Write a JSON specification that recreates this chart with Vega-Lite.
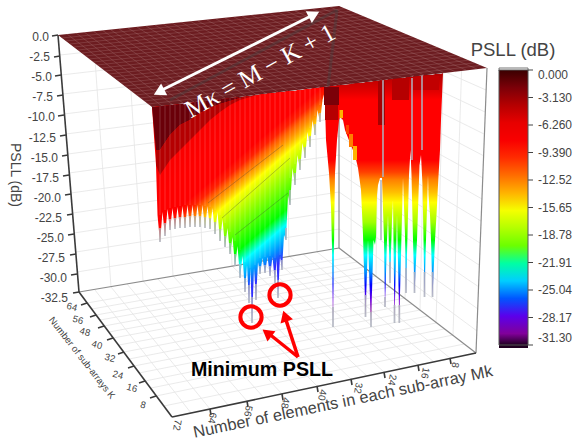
{"$schema":"https://vega.github.io/schema/vega-lite/v6.json","width":577,"height":440,"padding":0,"autosize":"none","background":"white","config":{"view":{"stroke":null},"text":{"font":"Liberation Sans"}},
"encoding":{"x":{"field":"u","type":"quantitative","scale":{"domain":[0,577],"nice":false,"zero":false},"axis":null},"y":{"field":"v","type":"quantitative","scale":{"domain":[440,0],"nice":false,"zero":false},"axis":null}},
"layer":[
{"mark":{"type":"rule","color":"#e4e4e4","strokeWidth":0.8},"encoding":{"x2":{"field":"a"},"y2":{"field":"w"}},"data":{"values":[
{"u":210,"v":409,"a":111,"w":287},{"u":247,"v":401,"a":143,"w":281},{"u":282,"v":394,"a":173,"w":276},{"u":317,"v":386,"a":203,"w":271},{"u":351,"v":379,"a":232,"w":266},{"u":384,"v":372,"a":260,"w":261},{"u":418,"v":365,"a":289,"w":256},{"u":450,"v":358,"a":317,"w":252},
{"u":191,"v":413,"a":95,"w":290},{"u":228,"v":405,"a":127,"w":284},{"u":264,"v":398,"a":158,"w":279},{"u":299,"v":390,"a":188,"w":274},{"u":334,"v":383,"a":217,"w":269},{"u":367,"v":376,"a":246,"w":264},{"u":401,"v":369,"a":274,"w":259},{"u":434,"v":362,"a":303,"w":254},
{"u":156,"v":396,"a":453,"w":335},{"u":145,"v":381,"a":436,"w":323},{"u":134,"v":366,"a":420,"w":310},{"u":124,"v":352,"a":405,"w":298},{"u":113,"v":338,"a":390,"w":287},{"u":104,"v":326,"a":376,"w":276},{"u":96,"v":315,"a":364,"w":267},{"u":87,"v":303,"a":351,"w":257},
{"u":164,"v":406,"a":464,"w":344},{"u":151,"v":388,"a":444,"w":329},{"u":139,"v":373,"a":428,"w":316},{"u":129,"v":359,"a":412,"w":304},{"u":119,"v":345,"a":397,"w":293},{"u":109,"v":332,"a":383,"w":282},{"u":100,"v":320,"a":370,"w":272},{"u":92,"v":309,"a":357,"w":262},
{"u":111,"v":287,"a":93,"w":31},{"u":143,"v":281,"a":127,"w":28},{"u":173,"v":276,"a":160,"w":25},{"u":203,"v":271,"a":192,"w":21},{"u":232,"v":266,"a":224,"w":18},{"u":260,"v":261,"a":254,"w":15},{"u":289,"v":256,"a":285,"w":12},{"u":317,"v":252,"a":315,"w":8},
{"u":60,"v":55,"a":339,"w":25},{"u":61,"v":75,"a":339,"w":43},{"u":63,"v":94,"a":339,"w":62},{"u":64,"v":114,"a":339,"w":80},{"u":66,"v":134,"a":339,"w":99},{"u":68,"v":154,"a":339,"w":118},{"u":69,"v":173,"a":339,"w":136},{"u":71,"v":193,"a":339,"w":155},{"u":73,"v":213,"a":339,"w":173},{"u":74,"v":233,"a":339,"w":192},{"u":76,"v":252,"a":339,"w":211},{"u":77,"v":272,"a":339,"w":229},
{"u":339,"v":25,"a":486,"w":90},{"u":339,"v":43,"a":485,"w":112},{"u":339,"v":62,"a":484,"w":134},{"u":339,"v":80,"a":484,"w":156},{"u":339,"v":99,"a":483,"w":178},{"u":339,"v":118,"a":482,"w":199},{"u":339,"v":136,"a":481,"w":221},{"u":339,"v":155,"a":480,"w":243},{"u":339,"v":173,"a":479,"w":265},{"u":339,"v":192,"a":479,"w":287},{"u":339,"v":211,"a":478,"w":309},{"u":339,"v":229,"a":477,"w":331},
{"u":453,"v":335,"a":462,"w":57},{"u":436,"v":323,"a":444,"w":50},{"u":420,"v":310,"a":426,"w":43},{"u":405,"v":298,"a":410,"w":36},{"u":390,"v":287,"a":394,"w":29},{"u":376,"v":276,"a":379,"w":23},{"u":364,"v":267,"a":366,"w":17},{"u":351,"v":257,"a":352,"w":12}]}},
{"mark":{"type":"rule","color":"#8c8c8c","strokeWidth":1.2},"encoding":{"x2":{"field":"a"},"y2":{"field":"w"}},"data":{"values":[{"u":79,"v":292,"a":339,"w":248},{"u":339,"v":248,"a":476,"w":353},{"u":476,"v":353,"a":487,"w":68},{"u":339,"v":6,"a":339,"w":248}]}},
{"mark":{"type":"rule","color":"#3a3a3a","strokeWidth":1.6},"encoding":{"x2":{"field":"a"},"y2":{"field":"w"}},"data":{"values":[{"u":58,"v":35,"a":79,"w":292},{"u":79,"v":292,"a":172,"w":417},{"u":172,"v":417,"a":476,"w":353},
{"u":58,"v":35,"a":52,"w":36},{"u":60,"v":56,"a":54,"w":57},{"u":61,"v":75,"a":55,"w":76},{"u":63,"v":95,"a":57,"w":96},{"u":64,"v":115,"a":58,"w":116},{"u":66,"v":135,"a":60,"w":136},{"u":68,"v":155,"a":62,"w":156},{"u":69,"v":175,"a":63,"w":176},{"u":71,"v":194,"a":65,"w":195},{"u":73,"v":214,"a":67,"w":215},{"u":74,"v":234,"a":68,"w":235},{"u":76,"v":254,"a":70,"w":255},{"u":77,"v":274,"a":71,"w":275},{"u":79,"v":292,"a":73,"w":293},
{"u":210,"v":409,"a":211,"w":415},{"u":247,"v":401,"a":248,"w":407},{"u":282,"v":394,"a":283,"w":400},{"u":317,"v":386,"a":318,"w":392},{"u":351,"v":379,"a":352,"w":385},{"u":384,"v":372,"a":385,"w":378},{"u":418,"v":365,"a":419,"w":371},{"u":450,"v":358,"a":451,"w":364},
{"u":156,"v":396,"a":150,"w":398},{"u":145,"v":381,"a":139,"w":383},{"u":134,"v":366,"a":128,"w":368},{"u":124,"v":352,"a":118,"w":354},{"u":113,"v":338,"a":107,"w":340},{"u":104,"v":326,"a":98,"w":328},{"u":96,"v":315,"a":90,"w":317},{"u":87,"v":303,"a":81,"w":305}]}},
{"mark":{"type":"area","interpolate":"linear","color":{"gradient":"linear","x1":0,"y1":0,"x2":0.541,"y2":0.863,"stops":[{"offset":0,"color":"#e80000"},{"offset":0.4,"color":"#ff0000"},{"offset":0.507,"color":"#ff0000"},{"offset":0.542,"color":"#ff2000"},{"offset":0.567,"color":"#ff6000"},{"offset":0.591,"color":"#ff9000"},{"offset":0.613,"color":"#ffc000"},{"offset":0.637,"color":"#ffff00"},{"offset":0.711,"color":"#a0ff00"},{"offset":0.835,"color":"#00ff00"},{"offset":0.887,"color":"#00ffff"},{"offset":0.951,"color":"#0090ff"},{"offset":1,"color":"#3030ff"}]}},"encoding":{"y2":{"field":"w"}},"data":{"values":[
{"u":152,"v":107,"w":107},{"u":156,"v":106,"w":165},{"u":157.5,"v":106,"w":215},{"u":160,"v":106,"w":242},{"u":162.5,"v":106,"w":212},{"u":165,"v":105,"w":236},{"u":167.5,"v":105,"w":209},{"u":170,"v":105,"w":230},{"u":172.5,"v":105,"w":208},{"u":175,"v":104,"w":229},{"u":177.5,"v":104,"w":207},{"u":180,"v":104,"w":228},{"u":182.5,"v":104,"w":206},{"u":185,"v":103,"w":228},{"u":187.5,"v":103,"w":205},{"u":190,"v":103,"w":227},{"u":192.5,"v":102,"w":205},{"u":195,"v":102,"w":227},{"u":197.5,"v":102,"w":205},{"u":200,"v":101,"w":227},{"u":202.5,"v":101,"w":205},{"u":205,"v":101,"w":228},{"u":207.5,"v":101,"w":206},{"u":210,"v":100,"w":229},{"u":212.5,"v":100,"w":208},{"u":215,"v":100,"w":234},{"u":217.5,"v":100,"w":212},{"u":220,"v":99,"w":241},{"u":222.5,"v":99,"w":219},{"u":225,"v":98,"w":247},{"u":227.5,"v":98,"w":228},{"u":230,"v":98,"w":254},{"u":232.5,"v":98,"w":237},{"u":235,"v":97,"w":266},{"u":237.5,"v":97,"w":246},{"u":240,"v":97,"w":278},{"u":242.5,"v":97,"w":256},{"u":245,"v":96,"w":292},{"u":247,"v":96,"w":265},{"u":249,"v":96,"w":303},{"u":250.5,"v":96,"w":268},{"u":252,"v":96,"w":323},{"u":254,"v":95,"w":268},{"u":256,"v":95,"w":300},{"u":258,"v":95,"w":262},{"u":260,"v":94,"w":274},{"u":262.5,"v":94,"w":258},{"u":265,"v":94,"w":273},{"u":267.5,"v":93,"w":257},{"u":270,"v":93,"w":276},{"u":272.5,"v":93,"w":257},{"u":275,"v":93,"w":283},{"u":276.5,"v":92,"w":259},{"u":278,"v":92,"w":298},{"u":280,"v":92,"w":256},{"u":282,"v":92,"w":270},{"u":284,"v":92,"w":235},{"u":286,"v":91,"w":240},{"u":288,"v":91,"w":195},{"u":290,"v":91,"w":205},{"u":292.5,"v":91,"w":168},{"u":295,"v":91,"w":185},{"u":297.5,"v":90,"w":155},{"u":300,"v":90,"w":170},{"u":302.5,"v":90,"w":143},{"u":305,"v":89,"w":158},{"u":307.5,"v":89,"w":132},{"u":310,"v":89,"w":147},{"u":312.5,"v":88,"w":120},{"u":315,"v":88,"w":135},{"u":317.5,"v":88,"w":110},{"u":320,"v":87,"w":122},{"u":322.5,"v":87,"w":100},{"u":326,"v":87,"w":87}]}},
{"mark":{"type":"area","interpolate":"linear","color":{"gradient":"linear","x1":0,"y1":0,"x2":0,"y2":1,"stops":[{"offset":0,"color":"#b00000"},{"offset":0.07,"color":"#e00000"},{"offset":0.106,"color":"#ff0000"},{"offset":0.343,"color":"#ff0000"},{"offset":0.39,"color":"#ff4000"},{"offset":0.42,"color":"#ff8000"},{"offset":0.47,"color":"#ffc000"},{"offset":0.51,"color":"#ffff00"},{"offset":0.587,"color":"#a0ff00"},{"offset":0.657,"color":"#00ff00"},{"offset":0.717,"color":"#00ffff"},{"offset":0.783,"color":"#0090ff"},{"offset":0.835,"color":"#0000ff"},{"offset":0.894,"color":"#7000e0"},{"offset":0.94,"color":"#800090"},{"offset":1,"color":"#b8b8c8"}]}},"encoding":{"y2":{"field":"w"}},"data":{"values":[
{"u":324,"v":87,"w":88},{"u":325,"v":87,"w":105},{"u":326,"v":87,"w":140},{"u":329,"v":86,"w":173},{"u":331,"v":86,"w":207},{"u":332,"v":86,"w":247},{"u":333,"v":86,"w":327},{"u":334,"v":86,"w":247},{"u":334.5,"v":86,"w":207},{"u":335,"v":86,"w":173},{"u":337,"v":85,"w":140},{"u":339,"v":85,"w":120},{"u":340,"v":85,"w":117},{"u":343,"v":85,"w":120},{"u":345,"v":85,"w":130},{"u":350,"v":84,"w":143},{"u":355,"v":83,"w":155},{"u":358,"v":83,"w":168},{"u":361,"v":83,"w":190},{"u":363,"v":83,"w":235},{"u":365.5,"v":82,"w":317},{"u":368,"v":82,"w":240},{"u":371,"v":82,"w":327},{"u":373.5,"v":81,"w":240},{"u":375,"v":81,"w":245},{"u":376,"v":81,"w":237},{"u":377,"v":81,"w":195},{"u":378,"v":81,"w":185},{"u":380,"v":80,"w":178},{"u":382,"v":80,"w":178},{"u":384,"v":80,"w":240},{"u":385,"v":80,"w":307},{"u":387,"v":80,"w":240},{"u":388,"v":79,"w":215},{"u":390,"v":79,"w":283},{"u":392,"v":79,"w":220},{"u":393,"v":79,"w":200},{"u":394.5,"v":79,"w":323},{"u":396.5,"v":78,"w":235},{"u":397,"v":78,"w":215},{"u":399.3,"v":78,"w":323},{"u":401.5,"v":78,"w":235},{"u":403,"v":78,"w":178},{"u":405,"v":78,"w":235},{"u":406,"v":77,"w":293},{"u":407.5,"v":77,"w":235},{"u":409,"v":77,"w":175},{"u":410.5,"v":77,"w":150},{"u":411.5,"v":77,"w":175},{"u":413,"v":77,"w":240},{"u":414.5,"v":76,"w":293},{"u":417,"v":76,"w":240},{"u":419.5,"v":76,"w":165},{"u":421,"v":76,"w":155},{"u":422.5,"v":76,"w":185},{"u":423.5,"v":75,"w":240},{"u":424.5,"v":75,"w":297},{"u":426,"v":75,"w":240},{"u":428,"v":75,"w":175},{"u":428.5,"v":75,"w":195},{"u":430,"v":75,"w":215},{"u":431,"v":75,"w":240},{"u":432.5,"v":75,"w":297},{"u":435,"v":74,"w":240},{"u":436.5,"v":74,"w":215},{"u":438,"v":74,"w":185},{"u":440,"v":74,"w":150},{"u":441,"v":74,"w":120},{"u":443,"v":73,"w":73}]}},
{"mark":{"type":"area","interpolate":"linear"},"encoding":{"y2":{"field":"w"},"color":{"field":"p","type":"quantitative","scale":{"type":"linear","domain":[-31.3,-30.2,-28.8,-26.7,-25,-23.1,-21.2,-18.5,-15.65,-14.4,-12.52,-11,-9,-6.26,-3.13,0],"range":["#200020","#800090","#7000e0","#0000ff","#0090ff","#00ffff","#00ff00","#a0ff00","#ffff00","#ffc000","#ff8000","#ff4000","#ff0000","#ee0000","#a00000","#3a0000"]},"legend":{"orient":"none","legendX":499,"legendY":70,"title":null,"gradientLength":275,"gradientThickness":29,"values":[0,-3.13,-6.26,-9.39,-12.52,-15.65,-18.78,-21.91,-25.04,-28.17,-31.3],"labelExpr":"datum.value==0?'0.000':replace(format(datum.value,'.4r'),'−','-')","labelFontSize":12,"labelColor":"#444444","labelFont":"Liberation Sans","labelOffset":10,"labelBaseline":"middle","gradientStrokeColor":"#555555","gradientStrokeWidth":1}}},"data":{"values":[
{"u":152,"v":107,"w":107,"p":-1.5},{"u":156,"v":107,"w":150,"p":-1.5},{"u":160,"v":106,"w":150,"p":-1.5},{"u":170,"v":105,"w":135,"p":-1.5},{"u":180,"v":104,"w":125,"p":-1.5},{"u":190,"v":103,"w":120,"p":-1.5},{"u":200,"v":101,"w":113,"p":-1.5},{"u":210,"v":100,"w":108,"p":-1.5},{"u":220,"v":99,"w":104,"p":-1.5},{"u":230,"v":98,"w":101,"p":-1.5},{"u":240,"v":97,"w":98,"p":-1.5},{"u":250,"v":96,"w":96,"p":-1.5},
{"u":156,"v":150,"w":165,"p":-4},{"u":160,"v":150,"w":175,"p":-4},{"u":170,"v":135,"w":160,"p":-4},{"u":180,"v":125,"w":150,"p":-4},{"u":190,"v":120,"w":140,"p":-4},{"u":200,"v":113,"w":130,"p":-4},{"u":210,"v":108,"w":120,"p":-4},{"u":220,"v":104,"w":112,"p":-4},{"u":230,"v":101,"w":105,"p":-4},{"u":240,"v":98,"w":100,"p":-4},{"u":250,"v":96,"w":97,"p":-4},{"u":260,"v":94,"w":94,"p":-4}]}},
{"mark":{"type":"rect"},"encoding":{"x2":{"field":"a"},"y2":{"field":"w"},"color":{"field":"p","type":"quantitative","legend":null}},"data":{"values":[
{"u":324,"a":339,"v":87,"w":105,"p":-2},{"u":325,"a":338,"v":105,"w":120,"p":-4},
{"u":378,"a":385,"v":81,"w":125,"p":-3.5},{"u":392,"a":409,"v":78,"w":100,"p":-4},{"u":413,"a":439,"v":76,"w":90,"p":-4.5},
{"u":339.5,"a":343,"v":110,"w":118,"p":-14},{"u":346,"a":349,"v":125,"w":134,"p":-11},{"u":349,"a":353,"v":134,"w":147,"p":-12.5},{"u":353,"a":357,"v":146,"w":160,"p":-14}]}},
{"mark":{"type":"rule","strokeWidth":1.8,"color":"#aeb2bd","opacity":0.85},"encoding":{"y2":{"field":"w"}},"data":{"values":[
{"u":160,"v":228,"w":242},{"u":165,"v":223,"w":236},{"u":170,"v":219,"w":230},{"u":175,"v":218,"w":229},{"u":180,"v":217,"w":228},{"u":185,"v":217,"w":228},{"u":190,"v":216,"w":227},{"u":195,"v":216,"w":227},{"u":200,"v":216,"w":227},{"u":205,"v":217,"w":228},{"u":210,"v":218,"w":229},{"u":215,"v":222,"w":234},{"u":220,"v":229,"w":241},{"u":225,"v":236,"w":247},{"u":230,"v":243,"w":254},{"u":235,"v":254,"w":266},{"u":240,"v":264,"w":278},{"u":245,"v":278,"w":292},{"u":249,"v":285,"w":303},{"u":252,"v":297,"w":323},{"u":256,"v":284,"w":300},{"u":260,"v":266,"w":274},{"u":265,"v":265,"w":273},{"u":270,"v":266,"w":276},{"u":275,"v":270,"w":283},{"u":278,"v":280,"w":298},{"u":282,"v":260,"w":270},{"u":286,"v":228,"w":240},{"u":290,"v":190,"w":205},{"u":295,"v":173,"w":185},{"u":300,"v":159,"w":170},{"u":305,"v":147,"w":158},{"u":310,"v":136,"w":147},{"u":315,"v":124,"w":135},{"u":320,"v":113,"w":122},
{"u":365.5,"v":295,"w":317},{"u":371,"v":312,"w":327},{"u":381,"v":180,"w":240},{"u":385,"v":297,"w":307},{"u":390,"v":262,"w":283},{"u":394.5,"v":305,"w":323},{"u":399.3,"v":305,"w":323},{"u":406,"v":268,"w":293},{"u":414.5,"v":272,"w":293},{"u":424.5,"v":272,"w":297},{"u":432.5,"v":272,"w":297},{"u":333,"v":307,"w":327},{"u":383,"v":80,"w":177},{"u":412,"v":78,"w":160},{"u":422,"v":76,"w":150}]}},
{"mark":{"type":"rule","color":"#ffffff","opacity":0.18,"strokeWidth":1},"encoding":{"y2":{"field":"w"}},"data":{"values":[
{"u":160,"v":106,"w":215},{"u":165,"v":105,"w":210},{"u":170,"v":105,"w":208},{"u":175,"v":104,"w":207},{"u":180,"v":104,"w":206},{"u":185,"v":103,"w":205},{"u":190,"v":103,"w":205},{"u":195,"v":102,"w":205},{"u":200,"v":101,"w":205},{"u":205,"v":101,"w":206},{"u":210,"v":100,"w":207},{"u":215,"v":100,"w":210},{"u":220,"v":99,"w":215},{"u":225,"v":98,"w":223},{"u":230,"v":98,"w":232},{"u":235,"v":97,"w":241},{"u":240,"v":97,"w":250},{"u":245,"v":96,"w":262},{"u":250,"v":96,"w":268},{"u":255,"v":95,"w":265},{"u":260,"v":94,"w":258},{"u":265,"v":94,"w":257},{"u":270,"v":93,"w":256},{"u":275,"v":93,"w":258},{"u":280,"v":92,"w":255},{"u":285,"v":92,"w":220},{"u":290,"v":91,"w":178},{"u":295,"v":91,"w":164},{"u":300,"v":90,"w":150},{"u":305,"v":89,"w":138},{"u":310,"v":89,"w":128},{"u":315,"v":88,"w":116},{"u":320,"v":88,"w":105}]}},
{"mark":{"type":"rule","color":"#3c3c3c","opacity":0.3,"strokeWidth":1},"encoding":{"x2":{"field":"a"},"y2":{"field":"w"}},"data":{"values":[{"u":208,"v":203,"a":283,"w":145},{"u":222,"v":218,"a":290,"w":158},{"u":235,"v":235,"a":288,"w":193}]}},
{"mark":{"type":"area","color":"#6c1c20"},"encoding":{"y2":{"field":"w"}},"data":{"values":[{"u":58,"v":35,"w":35},{"u":152,"v":25.3,"w":107},{"u":339,"v":6,"w":85.2},{"u":487,"v":68,"w":68}]}},
{"mark":{"type":"rule","color":"#b98a8a","opacity":0.45,"strokeWidth":0.6},"encoding":{"x2":{"field":"a"},"y2":{"field":"w"}},"data":{"values":[
{"u":62,"v":38,"a":345,"w":8.6},{"u":66,"v":41,"a":351,"w":11.2},{"u":70,"v":44,"a":358,"w":13.7},{"u":74,"v":47,"a":364,"w":16.3},{"u":78,"v":50,"a":370,"w":18.9},{"u":82,"v":53,"a":376,"w":21.5},{"u":85,"v":56,"a":382,"w":24.1},{"u":89,"v":59,"a":388,"w":26.6},{"u":93,"v":62,"a":395,"w":29.2},{"u":97,"v":65,"a":401,"w":31.8},{"u":101,"v":68,"a":407,"w":34.4},{"u":105,"v":71,"a":413,"w":37},{"u":109,"v":74,"a":419,"w":39.5},{"u":113,"v":77,"a":425,"w":42.1},{"u":117,"v":80,"a":432,"w":44.7},{"u":121,"v":83,"a":438,"w":47.3},{"u":125,"v":86,"a":444,"w":49.9},{"u":129,"v":89,"a":450,"w":52.4},{"u":132,"v":92,"a":456,"w":55},{"u":136,"v":95,"a":462,"w":57.6},{"u":140,"v":98,"a":469,"w":60.2},{"u":144,"v":101,"a":475,"w":62.8},{"u":148,"v":104,"a":481,"w":65.4},
{"u":162,"v":106,"a":67,"w":34},{"u":173,"v":105,"a":76,"w":33},{"u":183,"v":103,"a":84,"w":32},{"u":194,"v":102,"a":93,"w":31},{"u":204,"v":101,"a":102,"w":30},{"u":215,"v":100,"a":111,"w":30},{"u":225,"v":98,"a":119,"w":29},{"u":236,"v":97,"a":128,"w":28},{"u":246,"v":96,"a":137,"w":27},{"u":257,"v":95,"a":146,"w":26},{"u":267,"v":94,"a":155,"w":25},{"u":278,"v":92,"a":163,"w":24},{"u":288,"v":91,"a":172,"w":23},{"u":299,"v":90,"a":181,"w":22},{"u":309,"v":89,"a":190,"w":21},{"u":320,"v":87,"a":198,"w":21},{"u":330,"v":86,"a":207,"w":20},{"u":340,"v":85,"a":216,"w":19},{"u":351,"v":84,"a":225,"w":18},{"u":361,"v":83,"a":234,"w":17},{"u":372,"v":81,"a":242,"w":16},{"u":382,"v":80,"a":251,"w":15},{"u":393,"v":79,"a":260,"w":14},{"u":403,"v":78,"a":269,"w":13},{"u":414,"v":76,"a":278,"w":12},{"u":424,"v":75,"a":286,"w":11},{"u":435,"v":74,"a":295,"w":11},{"u":445,"v":73,"a":304,"w":10},{"u":456,"v":72,"a":313,"w":9},{"u":466,"v":70,"a":321,"w":8},{"u":477,"v":69,"a":330,"w":7}]}},
{"mark":{"type":"rule","color":"#444444","opacity":0.4,"strokeWidth":3},"encoding":{"x2":{"field":"a"},"y2":{"field":"w"}},"data":{"values":[{"u":170,"v":100,"a":337,"w":10},{"u":337,"v":10,"a":328,"w":87}]}},
{"mark":{"type":"rule","color":"white","strokeWidth":3},"encoding":{"x2":{"field":"a"},"y2":{"field":"w"}},"data":{"values":[{"u":160,"v":91,"a":313,"w":15}]}},
{"mark":{"type":"point","filled":true,"shape":"triangle-up","color":"white","opacity":1,"size":180,"angle":63},"data":{"values":[{"u":314,"v":14.5}]}},
{"mark":{"type":"point","filled":true,"shape":"triangle-up","color":"white","opacity":1,"size":180,"angle":243},"data":{"values":[{"u":159,"v":92}]}},
{"mark":{"type":"text","font":"Liberation Serif","fontSize":25,"color":"white","angle":-29},"encoding":{"text":{"field":"t"}},"data":{"values":[{"u":260,"v":71,"t":"Mκ = M − K + 1"}]}},
{"mark":{"type":"rule","color":"#ff0000","strokeWidth":3.5},"encoding":{"x2":{"field":"a"},"y2":{"field":"w"}},"data":{"values":[{"u":298,"v":357,"a":268,"w":333},{"u":298,"v":357,"a":286,"w":320}]}},
{"mark":{"type":"point","filled":true,"shape":"triangle-up","color":"#ff0000","opacity":1,"size":170,"angle":308},"data":{"values":[{"u":267,"v":333}]}},
{"mark":{"type":"point","filled":true,"shape":"triangle-up","color":"#ff0000","opacity":1,"size":170,"angle":342},"data":{"values":[{"u":285,"v":316}]}},
{"mark":{"type":"point","shape":"circle","color":"#ff0000","opacity":1,"size":452,"strokeWidth":4,"filled":false},"data":{"values":[{"u":251,"v":317},{"u":280,"v":295}]}},
{"mark":{"type":"text","font":"Liberation Sans","fontWeight":"bold","fontSize":19.7,"color":"black"},"encoding":{"text":{"field":"t"}},"data":{"values":[{"u":262,"v":370,"t":"Minimum PSLL"}]}},
{"mark":{"type":"text","align":"right","fontSize":12,"color":"#444444"},"encoding":{"text":{"field":"t"}},"data":{"values":[{"u":49,"v":37,"t":"0.0"},{"u":50,"v":57,"t":"-2.5"},{"u":52,"v":77,"t":"-5.0"},{"u":53,"v":97,"t":"-7.5"},{"u":55,"v":117,"t":"-10.0"},{"u":56,"v":138,"t":"-12.5"},{"u":58,"v":158,"t":"-15.0"},{"u":59,"v":178,"t":"-17.5"},{"u":61,"v":198,"t":"-20.0"},{"u":62,"v":218,"t":"-22.5"},{"u":64,"v":238,"t":"-25.0"},{"u":65,"v":258,"t":"-27.5"},{"u":67,"v":278,"t":"-30.0"},{"u":68,"v":298,"t":"-32.5"}]}},
{"mark":{"type":"text","fontSize":9.5,"color":"#444444","angle":15},"encoding":{"text":{"field":"t"}},"data":{"values":[{"u":143,"v":405,"t":"8"},{"u":132,"v":388,"t":"16"},{"u":118,"v":375,"t":"24"},{"u":110,"v":358,"t":"32"},{"u":97,"v":345,"t":"40"},{"u":85,"v":332,"t":"48"},{"u":78,"v":320,"t":"56"},{"u":72,"v":307,"t":"64"}]}},
{"mark":{"type":"text","fontSize":10,"color":"#444444","angle":100},"encoding":{"text":{"field":"t"}},"data":{"values":[{"u":177,"v":425,"t":"72"},{"u":212,"v":418,"t":"64"},{"u":248,"v":411,"t":"56"},{"u":285,"v":403,"t":"48"},{"u":322,"v":395,"t":"40"},{"u":358,"v":388,"t":"32"},{"u":392,"v":380,"t":"24"},{"u":425,"v":373,"t":"16"},{"u":455,"v":365,"t":"8"}]}},
{"mark":{"type":"text","fontSize":16.4,"color":"#444444","angle":-11.7},"encoding":{"text":{"field":"t"}},"data":{"values":[{"u":343,"v":402,"t":"Number of elements in each sub-array Mk"}]}},
{"mark":{"type":"text","fontSize":9.5,"color":"#444444","angle":52},"encoding":{"text":{"field":"t"}},"data":{"values":[{"u":82,"v":358,"t":"Number of sub-arrays K"}]}},
{"mark":{"type":"text","fontSize":14,"color":"#444444","angle":90},"encoding":{"text":{"field":"t"}},"data":{"values":[{"u":15,"v":175,"t":"PSLL (dB)"}]}},
{"mark":{"type":"text","fontSize":18.5,"color":"#444444"},"encoding":{"text":{"field":"t"}},"data":{"values":[{"u":513,"v":50,"t":"PSLL (dB)"}]}},
{"mark":{"type":"rect","fill":"white","stroke":"#777777","strokeWidth":1},"encoding":{"x2":{"field":"a"},"y2":{"field":"w"}},"data":{"values":[{"u":499,"a":528,"v":68,"w":71}]}},
{"mark":{"type":"rect","color":"#200020"},"encoding":{"x2":{"field":"a"},"y2":{"field":"w"}},"data":{"values":[{"u":499,"a":528,"v":344,"w":348}]}},
{"mark":{"type":"rule","color":"#444444","strokeWidth":1},"encoding":{"x2":{"field":"a"},"y2":{"field":"w"}},"data":{"values":[{"u":528,"v":70,"a":533,"w":70},{"u":528,"v":97.5,"a":533,"w":97.5},{"u":528,"v":125,"a":533,"w":125},{"u":528,"v":152.5,"a":533,"w":152.5},{"u":528,"v":180,"a":533,"w":180},{"u":528,"v":207.5,"a":533,"w":207.5},{"u":528,"v":235,"a":533,"w":235},{"u":528,"v":262.5,"a":533,"w":262.5},{"u":528,"v":290,"a":533,"w":290},{"u":528,"v":317.5,"a":533,"w":317.5},{"u":528,"v":345,"a":533,"w":345}]}}
]}
